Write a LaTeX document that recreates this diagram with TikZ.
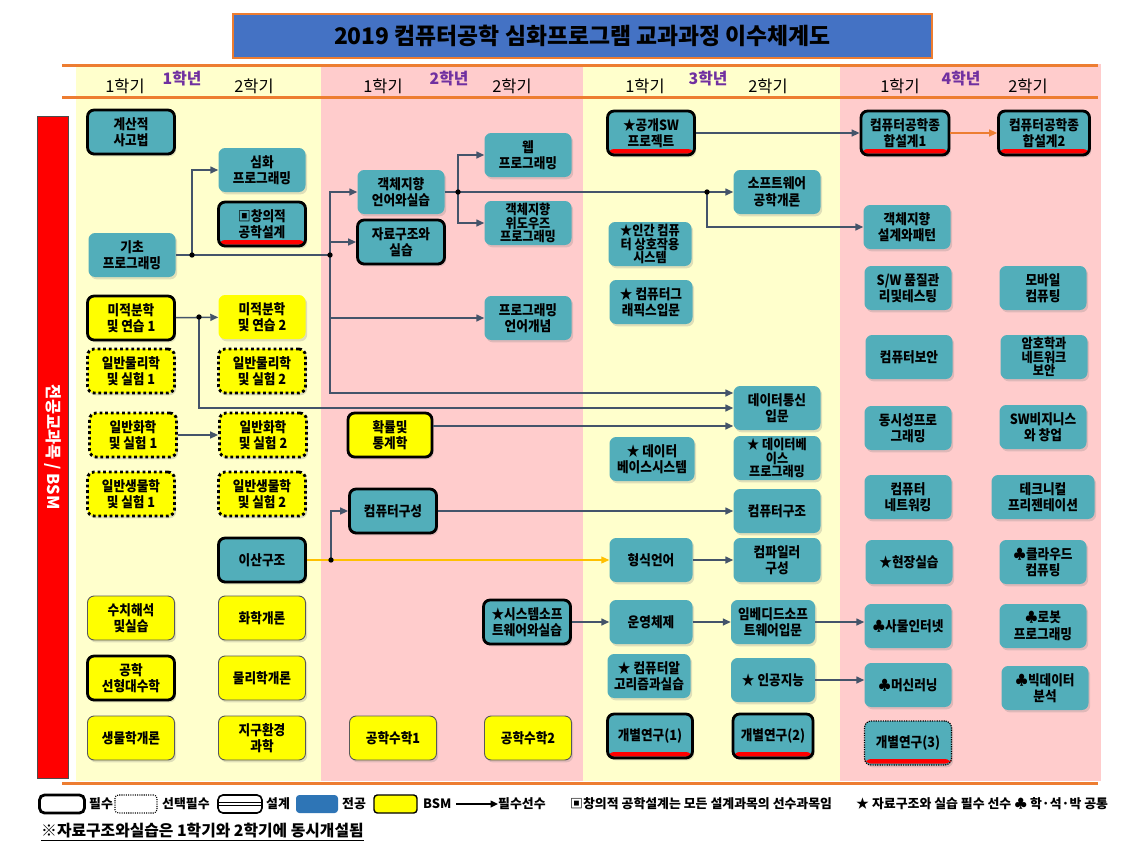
\documentclass[tikz,border=0pt]{standalone}
\usepackage{fontspec}
\setmainfont{Noto Sans CJK KR}
\newfontfamily\boxfont{Noto Sans CJK KR}[FakeStretch=0.9]
\usetikzlibrary{positioning,arrows.meta,shadows}
\definecolor{majorcol}{RGB}{82,174,186}
\definecolor{bsmcol}{RGB}{255,255,0}
\definecolor{linecol}{RGB}{68,84,106}
\definecolor{orangecol}{RGB}{237,125,49}
\definecolor{goldcol}{RGB}{255,192,0}
\definecolor{titleblue}{RGB}{68,114,196}
\definecolor{paleyellow}{RGB}{255,255,204}
\definecolor{palepink}{RGB}{255,204,204}
\definecolor{yearpurple}{RGB}{112,48,160}
\definecolor{legendblue}{RGB}{46,117,182}

\begin{document}
\begin{tikzpicture}[
            x=0.3mm, y=-0.3mm,
            course/.style={rectangle, rounded corners=2mm, minimum width=26.1mm, minimum height=13.2mm,
                       align=center, inner sep=0.3mm, font=\boxfont\bfseries\fontsize{12}{14}\selectfont,
                       drop shadow={opacity=0.25, shadow xshift=0.5mm, shadow yshift=-0.7mm}},
            major/.style={course, fill=majorcol},
            bsm/.style={course, fill=bsmcol},
            req/.style={draw=black, line width=2.4pt},
            opt/.style={draw=black, line width=2.4pt, dash pattern=on 2.4pt off 2.4pt},
            optthin/.style={draw=black, line width=1pt, dash pattern=on 1pt off 1pt},
            thinline/.style={draw=black!65, line width=0.8pt},
            design/.style={path picture={\fill[red] ([yshift=0.4mm]path picture bounding box.south west)
                       rectangle ([yshift=1.8mm]path picture bounding box.south east);}},
            tight/.style={font=\boxfont\bfseries\fontsize{11.5}{11.6}\selectfont},
            prereq/.style={-{Triangle[length=2.4mm,width=2.1mm]}, line width=1.3pt, color=linecol},
            link/.style={line width=1.3pt, color=linecol},
            sem/.style={font=\fontsize{14}{14}\selectfont},
            year/.style={font=\bfseries\fontsize{13.5}{14}\selectfont, text=yearpurple},
            legend/.style={anchor=west, inner sep=0pt, font=\bfseries\fontsize{11}{12}\selectfont}
        ]
            \useasboundingbox (0,0) rectangle (1131,849);
            \fill[white] (0,0) rectangle (1131,849);

            % year backgrounds
            \fill[paleyellow] (76,64) rectangle (321,781);
            \fill[palepink] (321,64) rectangle (583,781);
            \fill[paleyellow] (583,64) rectangle (840,781);
            \fill[palepink] (840,64) rectangle (1101,781);
            \draw[orangecol, line width=0.9mm] (62,65) -- (1098,65);
            \draw[orangecol, line width=0.9mm] (62,97) -- (1098,97);
            \draw[orangecol, line width=0.9mm] (62,783) -- (1098,783);

            % title
            \node[draw=orangecol, line width=1.5pt, fill=titleblue, minimum width=209.7mm, minimum height=13.2mm,
                  font=\bfseries\fontsize{19.5}{20}\selectfont] (title) at (582.5,36)
                  {2019 컴퓨터공학 심화프로그램 교과과정 이수체계도};

            % side bar
            \node[fill=red, draw=black!70, rotate=-90, minimum width=198.6mm, minimum height=9.3mm,
                  text=white, font=\bfseries\fontsize{14}{14}\selectfont] (side) at (52.5,447) {전공교과목 / BSM};

            % semesters and years
            \node[sem] (y1s1) at (125,86) {1학기};
            \node[year] (y1) at (182,79) {1학년};
            \node[sem] (y1s2) at (254,86) {2학기};
            \node[sem] (y2s1) at (383,86) {1학기};
            \node[year] (y2) at (449,79) {2학년};
            \node[sem] (y2s2) at (512,86) {2학기};
            \node[sem] (y3s1) at (645,86) {1학기};
            \node[year] (y3) at (708,79) {3학년};
            \node[sem] (y3s2) at (768,86) {2학기};
            \node[sem] (y4s1) at (900,86) {1학기};
            \node[year] (y4) at (961,79) {4학년};
            \node[sem] (y4s2) at (1028,86) {2학기};

            % year 1, semester 1
            \node[major, req] (cthink) at (131,132) {계산적\\사고법};
            \node[major] (basic) at (132,255) {기초\\프로그래밍};
            \node[bsm, req] (calc1) at (131,318) {미적분학\\및 연습 1};
            \node[bsm, opt] (phys1) at (131,371) {일반물리학\\및 실험 1};
            \node[bsm, opt] (chem1) at (133,435) {일반화학\\및 실험 1};
            \node[bsm, opt] (bio1) at (131,494) {일반생물학\\및 실험 1};
            \node[bsm, thinline] (numa) at (131,618) {수치해석\\및실습};
            \node[bsm, req] (linalg) at (131,678) {공학\\선형대수학};
            \node[bsm, thinline] (biol) at (131,738) {생물학개론};

            % year 1, semester 2
            \node[major] (adv) at (262,170) {심화\\프로그래밍};
            \node[major, req, design] (creat) at (262,224) {▣창의적\\공학설계};
            \node[bsm] (calc2) at (262,317) {미적분학\\및 연습 2};
            \node[bsm, opt] (phys2) at (262,371) {일반물리학\\및 실험 2};
            \node[bsm, opt] (chem2) at (263,435) {일반화학\\및 실험 2};
            \node[bsm, opt] (bio2) at (262,494) {일반생물학\\및 실험 2};
            \node[major, req] (disc) at (262,560) {이산구조};
            \node[bsm, thinline] (chemi) at (262,618) {화학개론};
            \node[bsm, thinline] (physi) at (262,678) {물리학개론};
            \node[bsm, thinline] (earth) at (262,738) {지구환경\\과학};

            % year 2
            \node[major] (oop) at (401,192) {객체지향\\언어와실습};
            \node[major, req] (ds) at (401,242) {자료구조와\\실습};
            \node[bsm, req, minimum width=25.2mm] (prob) at (390,435) {확률및\\통계학};
            \node[major, req] (corg) at (393,511) {컴퓨터구성};
            \node[bsm, thinline] (emath1) at (393,738) {공학수학1};
            \node[major] (web) at (528,155) {웹\\프로그래밍};
            \node[major, tight] (win) at (528,223) {객체지향\\위도우즈\\프로그래밍};
            \node[major] (plc) at (528,318) {프로그래밍\\언어개념};
            \node[major, req] (syssw) at (527,622) {★시스템소프\\트웨어와실습};
            \node[bsm, thinline] (emath2) at (528,738) {공학수학2};

            % year 3
            \node[major, req, design] (ossw) at (651,133) {★공개SW\\프로젝트};
            \node[major, tight, minimum width=24.9mm] (hci) at (650,244) {★인간 컴퓨\\터 상호작용\\시스템};
            \node[major, minimum width=24.9mm] (cg) at (651,302) {★ 컴퓨터그\\래픽스입문};
            \node[major, minimum width=25.5mm] (db) at (652,459) {★ 데이터\\베이스시스템};
            \node[major, minimum width=24.9mm] (formal) at (651,560) {형식언어};
            \node[major, minimum width=24.9mm] (os) at (651,622) {운영체제};
            \node[major, minimum width=24.9mm] (algo) at (649,676) {★ 컴퓨터알\\고리즘과실습};
            \node[major, req, design, minimum width=25.5mm] (ind1) at (650,736) {개별연구(1)};
            \node[major] (swe) at (777,192) {소프트웨어\\공학개론};
            \node[major] (dcomm) at (777,408) {데이터통신\\입문};
            \node[major, tight] (dbp) at (777,458) {★ 데이터베\\이스\\프로그래밍};
            \node[major] (carch) at (777,511) {컴퓨터구조};
            \node[major] (comp) at (777,560) {컴파일러\\구성};
            \node[major, minimum width=25.2mm] (emb) at (773,622) {임베디드소프\\트웨어입문};
            \node[major, minimum width=25.2mm] (ai) at (773,680) {★ 인공지능};
            \node[major, req, design, minimum width=24mm] (ind2) at (773,736) {개별연구(2)};

            % year 4
            \node[major, req, design, minimum width=26.4mm] (cap1) at (905,133) {컴퓨터공학종\\합설계1};
            \node[major] (ood) at (907,227) {객체지향\\설계와패턴};
            \node[major] (swq) at (908,288) {S/W 품질관\\리및테스팅};
            \node[major] (sec) at (909,357) {컴퓨터보안};
            \node[major] (conc) at (908,428) {동시성프로\\그래밍};
            \node[major] (net) at (908,497) {컴퓨터\\네트워킹};
            \node[major] (field) at (909,562) {★현장실습};
            \node[major] (iot) at (908,626) {♣사물인터넷};
            \node[major] (ml) at (908,685) {♣머신러닝};
            \node[major, optthin, design] (ind3) at (908,743) {개별연구(3)};
            \node[major, req, design, minimum width=27.3mm] (cap2) at (1044,133) {컴퓨터공학종\\합설계2};
            \node[major] (mobile) at (1043,288) {모바일\\컴퓨팅};
            \node[major, tight] (crypto) at (1044,357) {암호학과\\네트워크\\보안};
            \node[major] (swbiz) at (1043,427) {SW비지니스\\와 창업};
            \node[major, minimum width=30.9mm] (tech) at (1043,497) {테크니컬\\프리젠테이션};
            \node[major] (cloud) at (1043,562) {♣클라우드\\컴퓨팅};
            \node[major] (robot) at (1043,626) {♣로봇\\프로그래밍};
            \node[major] (bigdata) at (1045,688) {♣빅데이터\\분석};

            % junctions
            \coordinate (j1) at (192,255);
            \coordinate (j2) at (330,255);
            \coordinate (j3) at (458,192);
            \coordinate (j4) at (707,192);
            \coordinate (j5) at (199,317);
            \coordinate (j6) at (331,560);
            \coordinate (dc1) at ([yshift=4.5mm]dcomm.west);
            \coordinate (dc3) at ([yshift=-5.4mm]dcomm.west);

            % prerequisites
            \draw[link] (basic.east) -- (j2);
            \draw[prereq] (j1) |- (adv.west);
            \draw[prereq] (j2) |- (oop.west);
            \draw[prereq] (j2 |- ds.west) -- (ds.west);
            \draw[prereq] (j2 |- plc.west) -- (plc.west);
            \draw[prereq] (j2) |- (dc1);
            \draw[prereq] (oop.east) -- (swe.west);
            \draw[prereq] (j3) |- (web.west);
            \draw[prereq] (j3) |- (win.west);
            \draw[prereq] (j4) |- (ood.west);
            \draw[prereq] (ossw) -- (cap1);
            \draw[prereq, color=orangecol] (cap1) -- (cap2);
            \draw[prereq] (calc1) -- (calc2);
            \draw[prereq] (j5) |- (dcomm.west);
            \draw[prereq] (prob.east |- dc3) -- (dc3);
            \draw[prereq] (chem1) -- (chem2);
            \draw[prereq, color=goldcol, line width=1pt] (disc) -- (formal);
            \draw[prereq] (j6) |- (corg.west);
            \draw[prereq] (corg) -- (carch);
            \draw[prereq] (formal) -- (comp);
            \draw[prereq] (syssw) -- (os);
            \draw[prereq] (os) -- (emb);
            \draw[prereq] (emb.east) -- (emb.east -| iot.west);
            \draw[prereq] (ai.east) -- (ai.east -| ml.west);
            \foreach \j in {j1,j2,j3,j4,j5,j6}
                \fill (\j) circle (0.8mm);

            % legend
            \node[draw, line width=2.4pt, rounded corners=1.5mm, minimum width=13.5mm, minimum height=5.4mm] (lgreq) at (62,804) {};
            \node[legend] (lgreqt) at (89,804) {필수};
            \node[draw, line width=0.9pt, densely dotted, rounded corners=1mm, minimum width=12.6mm, minimum height=5.4mm] (lgopt) at (136,804) {};
            \node[legend] (lgoptt) at (162,804) {선택필수};
            \node[draw, line width=1.4pt, rounded corners=1.5mm, minimum width=13.2mm, minimum height=5.4mm,
                  path picture={\draw[line width=0.6pt] ([yshift=0.4mm]path picture bounding box.west) -- ([yshift=0.4mm]path picture bounding box.east);
                                \draw[line width=0.6pt] ([yshift=-0.4mm]path picture bounding box.west) -- ([yshift=-0.4mm]path picture bounding box.east);}] (lgdes) at (240,804) {};
            \node[legend] (lgdest) at (266,804) {설계};
            \node[fill=legendblue, rounded corners=1mm, minimum width=12.6mm, minimum height=5.4mm] (lgmaj) at (317,804) {};
            \node[legend] (lgmajt) at (342,804) {전공};
            \node[fill=bsmcol, draw, line width=1.2pt, rounded corners=1mm, minimum width=12.9mm, minimum height=5.4mm] (lgbsm) at (395.5,804) {};
            \node[legend] (lgbsmt) at (423,804) {BSM};
            \coordinate (lgfrom) at (456,804);
            \node[legend] (lgarrowt) at (498,804) {필수선수};
            \draw[-{Triangle[length=2.2mm,width=2mm]}, line width=1.2pt] (lgfrom) -- (lgarrowt.west);
            \node[legend] (note1) at (570,804) {▣창의적 공학설계는 모든 설계과목의 선수과목임};
            \node[legend] (note2) at (856,804) {★ 자료구조와 실습 필수 선수 ♣ 학·석·박 공통};
            \node[legend, font=\bfseries\fontsize{13.5}{14}\selectfont] (note3) at (41,832) {\underline{※자료구조와실습은 1학기와 2학기에 동시개설됨}};
        \end{tikzpicture}
\end{document}
